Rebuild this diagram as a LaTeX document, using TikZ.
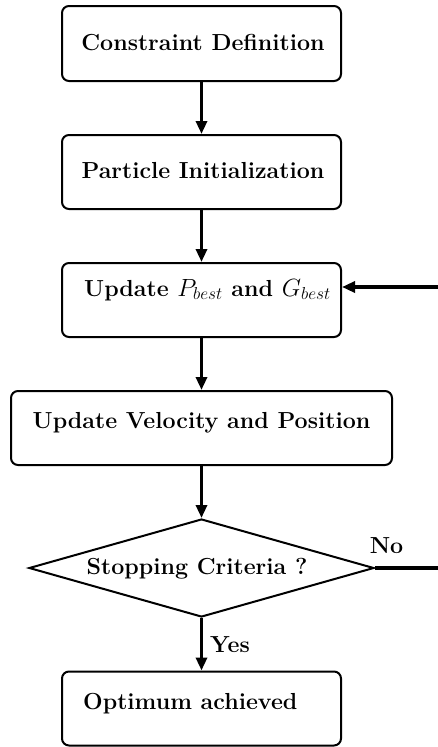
\documentclass[tikz,border=0pt]{standalone}
\usetikzlibrary{shapes.geometric,arrows.meta}
\begin{document}
\begin{tikzpicture}[x=1pt,y=1pt,
  box/.style={draw,line width=2pt,rounded corners=7pt,inner sep=0pt},
  lbl/.style={font=\fontsize{23.2}{28}\selectfont\bfseries,inner sep=0pt},
  flow/.style={line width=3.2pt,-{Triangle[length=13pt,width=11pt]}},
  plain/.style={line width=3.2pt}]
\useasboundingbox (0,0) rectangle (438,-747);
% boxes
\node[box,minimum width=279pt,minimum height=75pt] (b1) at (201.5,-43.5) {};
\node[lbl] (t1) at (203,-43) {Constraint Definition};
\node[box,minimum width=279pt,minimum height=74pt] (b2) at (201.5,-172) {};
\node[lbl] (t2) at (203,-171) {Particle Initialization};
\node[box,minimum width=279pt,minimum height=74pt] (b3) at (201.5,-300) {};
\node[lbl,anchor=west] (t3) at (84,-290) {Update $P_{best}$ and $G_{best}$};
\node[box,minimum width=381pt,minimum height=74pt] (b4) at (201.5,-428) {};
\node[lbl] (t4) at (201.5,-423) {Update Velocity and Position};
\node[draw,diamond,line width=2pt,minimum width=345pt,minimum height=98pt,inner sep=0pt] (d) at (201.5,-568) {};
\node[lbl] (td) at (197,-569) {Stopping Criteria ?};
\node[box,minimum width=279pt,minimum height=74pt] (b5) at (201.5,-708.5) {};
\node[lbl,anchor=west] (t5) at (83,-704) {Optimum achieved};
% connectors
\draw[flow] (b1.south) -- (b2.north);
\draw[flow] (b2.south) -- (b3.north);
\draw[flow] (b3.south) -- (b4.north);
\draw[flow] (b4.south) -- (d.north);
\draw[flow] (d.south) -- node[lbl,right=7pt] (yes) {Yes} (b5.north);
\coordinate (r1) at (438,-287);
\coordinate (r2) at (438,-568);
\draw[flow] (r1) -- (b3.east |- r1);
\draw[plain] (d.east) -- (r2);
\node[lbl] (no) at (386.5,-546) {No};
\end{tikzpicture}
\end{document}
